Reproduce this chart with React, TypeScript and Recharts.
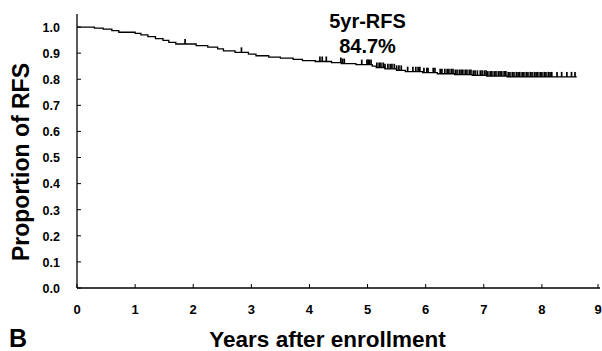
import { ComposedChart, Line, Scatter, XAxis, YAxis, Customized } from 'recharts';

// Kaplan-Meier steps (years, proportion)
const stepTimes = [0, 0.3, 0.45, 0.6, 0.72, 1.0, 1.1, 1.22, 1.35, 1.48, 1.58, 1.7, 2.05, 2.25, 2.42, 2.52, 2.72, 2.95, 3.08, 3.3, 3.5, 3.72, 3.88, 4.1, 4.38, 4.55, 4.8, 5.08, 5.15, 5.3, 5.5, 5.65, 5.95, 6.2, 6.5, 6.8, 7.05, 7.4, 8.6];
const stepSurv = [1.0, 0.996, 0.992, 0.986, 0.98, 0.976, 0.97, 0.963, 0.956, 0.949, 0.941, 0.935, 0.929, 0.923, 0.916, 0.909, 0.903, 0.896, 0.89, 0.885, 0.881, 0.876, 0.871, 0.868, 0.864, 0.86, 0.856, 0.85, 0.845, 0.84, 0.834, 0.829, 0.825, 0.821, 0.818, 0.815, 0.812, 0.809, 0.809];

// censored observations (years)
const censorTimes = [
  1.86, 2.83,
  4.18, 4.22, 4.29, 4.54, 4.57, 4.6, 4.9, 4.99, 5.01, 5.03, 5.06,
  5.16, 5.2, 5.23, 5.27, 5.3, 5.35, 5.39, 5.42, 5.46, 5.5, 5.54, 5.58,
  5.69, 5.78, 5.83, 5.87, 5.9, 5.97, 6.02, 6.04, 6.13, 6.16, 6.25, 6.28,
  6.33, 6.37, 6.4, 6.44, 6.47, 6.51, 6.54, 6.58, 6.61, 6.64, 6.68, 6.71, 6.75, 6.78, 6.82, 6.85, 6.89,
  6.94, 6.97, 7.01, 7.04, 7.07, 7.11, 7.14, 7.18, 7.21, 7.25, 7.28, 7.31, 7.35, 7.38, 7.42,
  7.45, 7.49, 7.52, 7.56, 7.59, 7.62, 7.66, 7.69, 7.73, 7.76, 7.8, 7.83, 7.87, 7.9, 7.93, 7.97, 8.0, 8.04, 8.07, 8.11, 8.14,
  8.17, 8.26, 8.34, 8.43, 8.51, 8.57,
];

const xTicks = [0, 1, 2, 3, 4, 5, 6, 7, 8, 9];
const yTicks = [0, 0.1, 0.2, 0.3, 0.4, 0.5, 0.6, 0.7, 0.8, 0.9, 1.0];

const FONT = '"Liberation Sans", Arial, sans-serif';

const curve = stepTimes.map((t, i) => ({ t, s: stepSurv[i] }));

// survival value at a censor time = last step at or before it
const survAt = (t: number) => {
  let s = stepSurv[0];
  for (let i = 0; i < stepTimes.length; i++) if (stepTimes[i] <= t) s = stepSurv[i];
  return s;
};
const censors = censorTimes.map(t => ({ t, s: survAt(t) }));

const YTick = (props: any) => {
  const { x, y, payload } = props;
  return (
    <g>
      <line x1={x} x2={x + 4} y1={y} y2={y} stroke="#000" strokeWidth={1} />
      <text x={x - 17} y={y} dy={4.8} textAnchor="end" fontFamily={FONT} fontWeight="bold" fontSize={12.5} fill="#000">
        {payload.value.toFixed(1)}
      </text>
    </g>
  );
};

const XTick = (props: any) => {
  const { x, y, payload } = props;
  return (
    <g>
      <line x1={x} x2={x} y1={y} y2={y - 4} stroke="#000" strokeWidth={1} />
      <text x={x} y={y + 26} textAnchor="middle" fontFamily={FONT} fontWeight="bold" fontSize={13} fill="#000">
        {payload.value}
      </text>
    </g>
  );
};

const CensorMark = (props: any) => {
  const { cx, cy } = props;
  return <line x1={cx} x2={cx} y1={cy} y2={cy - 5} stroke="#000" strokeWidth={1.7} />;
};

const Titles = () => (
  <g fontFamily={FONT} fontWeight="bold" fill="#000">
    <text x={367.5} y={28} textAnchor="middle" fontSize={20}>5yr-RFS</text>
    <text x={367.5} y={53} textAnchor="middle" fontSize={20}>84.7%</text>
    <text x={29} y={162} textAnchor="middle" fontSize={23} transform="rotate(-90, 29, 162)">Proportion of RFS</text>
    <text x={327.5} y={347} textAnchor="middle" fontSize={22.5}>Years after enrollment</text>
    <text x={9} y={347} fontSize={25}>B</text>
  </g>
);

export default function App() {
  return (
    <div style={{ position: 'absolute', left: 0, top: 0, width: 602, height: 351, background: '#fff' }}>
      <ComposedChart width={602} height={351} margin={{ top: 14, right: 2, bottom: 33, left: 17 }}>
        <XAxis
          type="number"
          dataKey="t"
          domain={[0, 9]}
          ticks={xTicks}
          height={30}
          tickSize={0}
          tickMargin={0}
          tick={<XTick />}
          axisLine={{ stroke: '#000', strokeWidth: 1.3 }}
          tickLine={false}
          allowDataOverflow
        />
        <YAxis
          type="number"
          dataKey="s"
          domain={[0, 1.05]}
          ticks={yTicks}
          width={60}
          tickSize={0}
          tickMargin={0}
          tick={<YTick />}
          axisLine={{ stroke: '#000', strokeWidth: 1.3 }}
          tickLine={false}
          allowDataOverflow
        />
        <Line
          data={curve}
          dataKey="s"
          type="stepAfter"
          stroke="#000"
          strokeWidth={1.3}
          dot={false}
          isAnimationActive={false}
        />
        <Scatter data={censors} dataKey="s" shape={<CensorMark />} isAnimationActive={false} />
        <Customized component={<Titles />} />
      </ComposedChart>
    </div>
  );
}
